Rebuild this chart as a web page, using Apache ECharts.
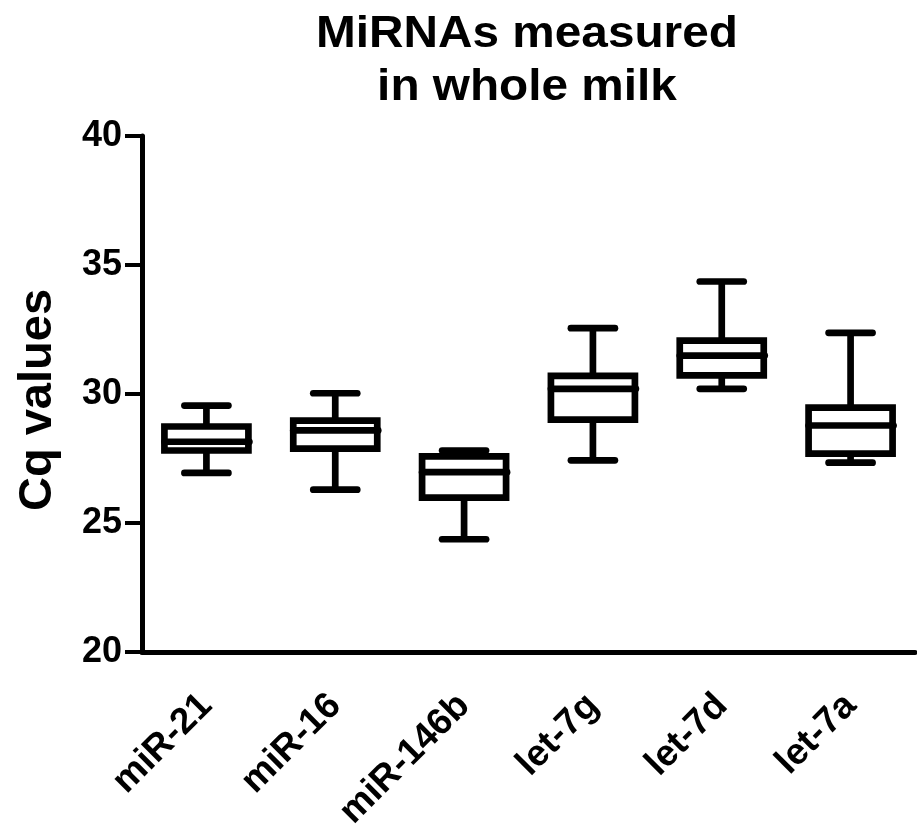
<!DOCTYPE html>
<html>
<head>
<meta charset="utf-8">
<script src="https://cdn.jsdelivr.net/npm/echarts@6/dist/echarts.min.js"></script>
<style>
html,body{margin:0;padding:0;background:#fff;}
#chart{width:917px;height:826px;}
</style>
</head>
<body>
<div id="chart"></div>
<script>
const categories = ['miR-21', 'miR-16', 'miR-146b', 'let-7g', 'let-7d', 'let-7a'];
const whiskerLow  = [26.94, 26.29, 24.37, 27.43, 30.20, 27.34];
const q1          = [27.81, 27.88, 25.98, 29.01, 30.72, 27.69];
const median      = [28.15, 28.59, 26.97, 30.20, 31.49, 28.78];
const q3          = [28.74, 28.97, 27.58, 30.70, 32.07, 29.47];
const whiskerHigh = [29.55, 30.03, 27.81, 32.55, 34.36, 32.37];
const yTicks = [20, 25, 30, 35, 40];
const titleText = 'MiRNAs measured\nin whole milk';

const FONT = '"Liberation Sans", Arial, sans-serif';
const LW = 6.7;
const BOX_HALF = 42;
const CAP_HALF = 22;

const data = categories.map((c, i) => [i, whiskerLow[i], q1[i], median[i], q3[i], whiskerHigh[i]]);

function renderItem(params, api) {
  const i = api.value(0);
  const pLow = api.coord([i, api.value(1)]);
  const pQ1 = api.coord([i, api.value(2)]);
  const pMed = api.coord([i, api.value(3)]);
  const pQ3 = api.coord([i, api.value(4)]);
  const pHigh = api.coord([i, api.value(5)]);
  const x = pMed[0];
  const st = {stroke: '#000', lineWidth: LW, fill: null};
  const stRound = {stroke: '#000', lineWidth: LW, lineCap: 'round'};
  return {
    type: 'group',
    children: [
      {type: 'line', shape: {x1: x, y1: pQ3[1], x2: x, y2: pHigh[1]}, style: st},
      {type: 'line', shape: {x1: x, y1: pQ1[1], x2: x, y2: pLow[1]}, style: st},
      {type: 'line', shape: {x1: x - CAP_HALF, y1: pHigh[1], x2: x + CAP_HALF, y2: pHigh[1]}, style: stRound},
      {type: 'line', shape: {x1: x - CAP_HALF, y1: pLow[1], x2: x + CAP_HALF, y2: pLow[1]}, style: stRound},
      {type: 'rect', shape: {x: x - BOX_HALF, y: pQ3[1], width: 2 * BOX_HALF, height: pQ1[1] - pQ3[1]}, style: {stroke: '#000', lineWidth: LW, fill: '#fff'}},
      {type: 'line', shape: {x1: x - BOX_HALF, y1: pMed[1], x2: x + BOX_HALF + 1, y2: pMed[1]}, style: stRound}
    ]
  };
}

const chart = echarts.init(document.getElementById('chart'), null, {renderer: 'canvas'});
chart.setOption({
  animation: false,
  backgroundColor: '#fff',
  graphic: [{
    type: 'text',
    x: 527,
    y: 8,
    scaleX: 1.085,
    style: {
      text: titleText,
      fontFamily: FONT, fontWeight: 'bold', fontSize: 44, lineHeight: 53,
      align: 'center', verticalAlign: 'top', fill: '#000'
    }
  }],
  grid: {left: 142, right: 2, top: 136, bottom: 174, containLabel: false, outerBoundsMode: 'none'},
  xAxis: {
    type: 'category',
    data: categories,
    boundaryGap: true,
    axisLine: {lineStyle: {color: '#000', width: 5}},
    axisTick: {alignWithLabel: true, length: 17, lineStyle: {color: '#000', width: 4}},
    axisLabel: {rotate: 45, margin: 48, padding: [20, 0, 0, 0], fontFamily: FONT, fontWeight: 'bold', fontSize: 37, color: '#000'}
  },
  yAxis: {
    type: 'value',
    min: 20, max: 40, interval: 5,
    name: 'Cq values',
    nameLocation: 'middle',
    nameGap: 80,
    nameTextStyle: {fontFamily: FONT, fontWeight: 'bold', fontSize: 47, color: '#000', padding: [0, 12, 0, 0]},
    splitLine: {show: false},
    axisLine: {show: true, lineStyle: {color: '#000', width: 5}},
    axisTick: {show: true, length: 17, lineStyle: {color: '#000', width: 4}},
    axisLabel: {margin: 20, fontFamily: FONT, fontWeight: 'bold', fontSize: 36, color: '#000',
      formatter: v => yTicks.includes(v) ? String(v) : ''}
  },
  series: [{
    type: 'custom',
    renderItem: renderItem,
    data: data,
    encode: {x: 0, y: [1, 2, 3, 4, 5]},
    clip: false
  }]
});
</script>
</body>
</html>
